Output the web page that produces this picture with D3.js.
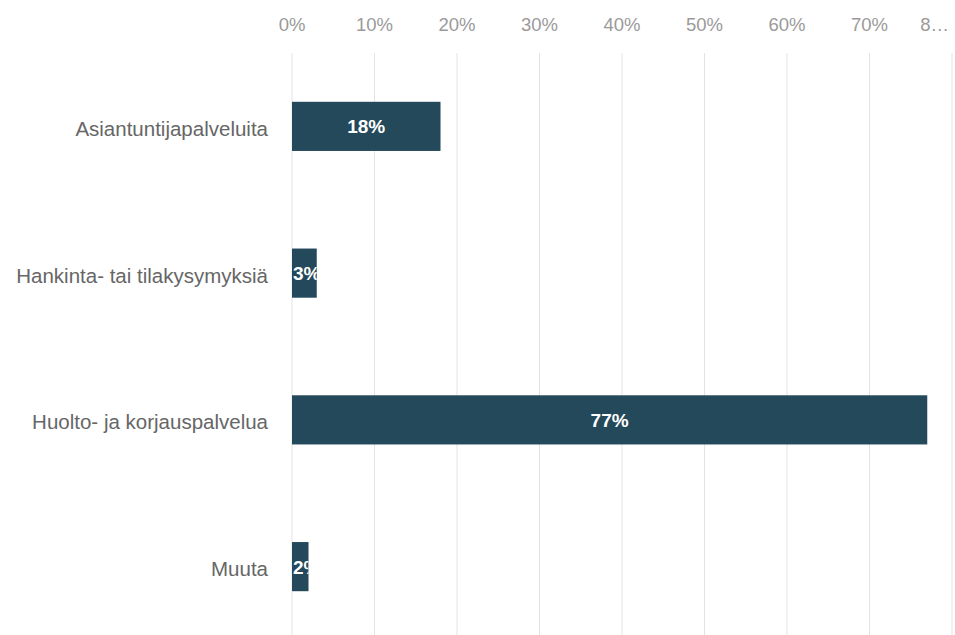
<!DOCTYPE html>
<html>
<head>
<meta charset="utf-8">
<script src="https://cdn.jsdelivr.net/npm/d3@7"></script>
<style>
  html, body { margin: 0; padding: 0; background: #fff; }
  svg { display: block; font-family: "Liberation Sans", Arial, sans-serif; }
</style>
</head>
<body>
<svg id="chart" width="955" height="635"></svg>
<script>
// Survey answers, share of respondents (%)
const categories = [
  "Asiantuntijapalveluita",
  "Hankinta- tai tilakysymyksiä",
  "Huolto- ja korjauspalvelua",
  "Muuta"
];
const values = [18, 3, 77, 2];
const tickValues = [0, 10, 20, 30, 40, 50, 60, 70, 80];
const tickLabels = ["0%", "10%", "20%", "30%", "40%", "50%", "60%", "70%", "8…"];

const svg = d3.select("#chart");
const margin = { top: 53, right: 3, bottom: -5, left: 292 };
const W = 955, H = 635;

const x = d3.scaleLinear()
  .domain([0, 80])
  .range([margin.left, W - margin.right]);

const y = d3.scaleBand()
  .domain(categories)
  .range([margin.top, H - margin.bottom])
  .paddingInner(0.665)
  .paddingOuter(0.3325);

// vertical gridlines
svg.append("g")
  .selectAll("line")
  .data(tickValues)
  .join("line")
  .attr("x1", d => x(d)).attr("x2", d => x(d))
  .attr("y1", margin.top).attr("y2", H)
  .attr("stroke", "#e3e3e3")
  .attr("stroke-width", 1);

// top tick labels
svg.append("g")
  .selectAll("text")
  .data(tickValues)
  .join("text")
  .attr("x", (d, i) => i === tickValues.length - 1 ? W - 6 : x(d))
  .attr("y", 31)
  .attr("text-anchor", (d, i) => i === tickValues.length - 1 ? "end" : "middle")
  .attr("fill", "#9a9a9a")
  .attr("font-size", 18.5)
  .text((d, i) => tickLabels[i]);

// category labels
svg.append("g")
  .selectAll("text")
  .data(categories)
  .join("text")
  .attr("x", 268)
  .attr("y", d => y(d) + y.bandwidth() / 2 + 9.5)
  .attr("text-anchor", "end")
  .attr("fill", "#666")
  .attr("font-size", 20.5)
  .text(d => d);

// bars
svg.append("g")
  .selectAll("rect")
  .data(categories)
  .join("rect")
  .attr("x", x(0))
  .attr("y", d => y(d))
  .attr("width", (d, i) => x(values[i]) - x(0))
  .attr("height", y.bandwidth())
  .attr("fill", "#23495a");

// value labels, clipped to their bar
const defs = svg.append("defs");
categories.forEach((c, i) => {
  defs.append("clipPath").attr("id", "clip" + i)
    .append("rect")
    .attr("x", x(0)).attr("y", y(c))
    .attr("width", x(values[i]) - x(0))
    .attr("height", y.bandwidth());
});
const narrow = i => (x(values[i]) - x(0)) < 45;
svg.append("g")
  .selectAll("text")
  .data(categories)
  .join("text")
  .attr("clip-path", (d, i) => `url(#clip${i})`)
  .attr("x", (d, i) => narrow(i) ? x(0) + 1 : (x(0) + x(values[i])) / 2)
  .attr("y", d => y(d) + y.bandwidth() / 2 + 7)
  .attr("text-anchor", (d, i) => narrow(i) ? "start" : "middle")
  .attr("fill", "#fff")
  .attr("font-size", 19)
  .attr("font-weight", "bold")
  .text((d, i) => values[i] + "%");
</script>
</body>
</html>
